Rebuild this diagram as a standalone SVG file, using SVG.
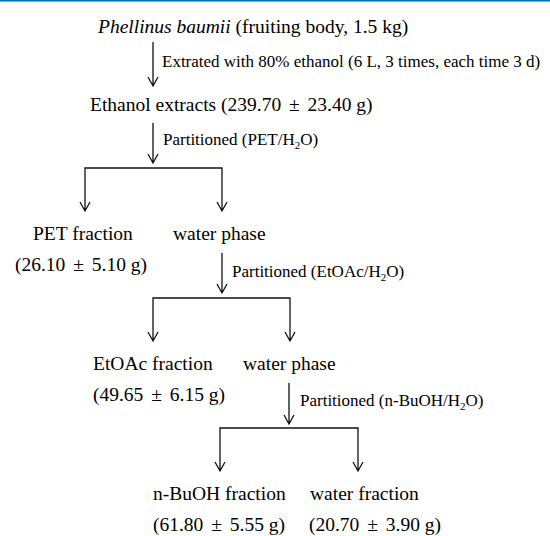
<svg xmlns="http://www.w3.org/2000/svg" width="550" height="536" viewBox="0 0 550 536">
<style>
.t{font-family:"Liberation Serif","Times New Roman",serif;font-size:19.5px;fill:#000}
.s{font-family:"Liberation Serif","Times New Roman",serif;font-size:17px;fill:#000}
.sub{font-size:11px}
.c{fill:none;stroke:#111;stroke-width:1.3}
</style>
<rect x="0" y="0" width="550" height="1.5" fill="#0070b8"/>
<g id="connectors">
<path class="c" d="M153,42 V86 M148,77 L153,86 L158,77"/>
<path class="c" d="M153,123 V163 M148,154 L153,163 L158,154"/>
<path class="c" d="M85,211 V168 H222 V211 M80,202 L85,211 L90,202 M217,202 L222,211 L227,202"/>
<path class="c" d="M222,253 V293 M217,284 L222,293 L227,284"/>
<path class="c" d="M153,341 V298 H290 V341 M148,332 L153,341 L158,332 M285,332 L290,341 L295,332"/>
<path class="c" d="M289,383 V424 M284,415 L289,424 L294,415"/>
<path class="c" d="M220,471 V428 H358 V471 M215,462 L220,471 L225,462 M353,462 L358,471 L363,462"/>
</g>
<g id="n1"><text class="t" x="98" y="33"><tspan font-style="italic">Phellinus baumii</tspan> (fruiting body, 1.5 kg)</text></g>
<g id="l1"><text class="s" x="162" y="67">Extrated with 80% ethanol (6 L, 3 times, each time 3 d)</text></g>
<g id="n2"><text class="t" x="90" y="111">Ethanol extracts (239.70 <tspan dx="3">±</tspan><tspan dx="3"> 23.40 g)</tspan></text></g>
<g id="l2"><text class="s" x="163" y="145">Partitioned (PET/H<tspan class="sub" dy="4">2</tspan><tspan dy="-4">O)</tspan></text></g>
<g id="n3"><text class="t" x="33" y="240">PET fraction</text><text class="t" x="15" y="271">(26.10 <tspan dx="3">±</tspan><tspan dx="3"> 5.10 g)</tspan></text></g>
<g id="n4"><text class="t" x="173" y="240">water phase</text></g>
<g id="l3"><text class="s" x="232" y="277">Partitioned (EtOAc/H<tspan class="sub" dy="4">2</tspan><tspan dy="-4">O)</tspan></text></g>
<g id="n5"><text class="t" x="93" y="370">EtOAc fraction</text><text class="t" x="93" y="401">(49.65 <tspan dx="3">±</tspan><tspan dx="3"> 6.15 g)</tspan></text></g>
<g id="n6"><text class="t" x="243" y="370">water phase</text></g>
<g id="l4"><text class="s" x="300" y="406">Partitioned (n-BuOH/H<tspan class="sub" dy="4">2</tspan><tspan dy="-4">O)</tspan></text></g>
<g id="n7"><text class="t" x="153" y="500">n-BuOH fraction</text><text class="t" x="153" y="531">(61.80 <tspan dx="3">±</tspan><tspan dx="3"> 5.55 g)</tspan></text></g>
<g id="n8"><text class="t" x="310" y="500">water fraction</text><text class="t" x="309" y="531">(20.70 <tspan dx="3">±</tspan><tspan dx="3"> 3.90 g)</tspan></text></g>
</svg>
